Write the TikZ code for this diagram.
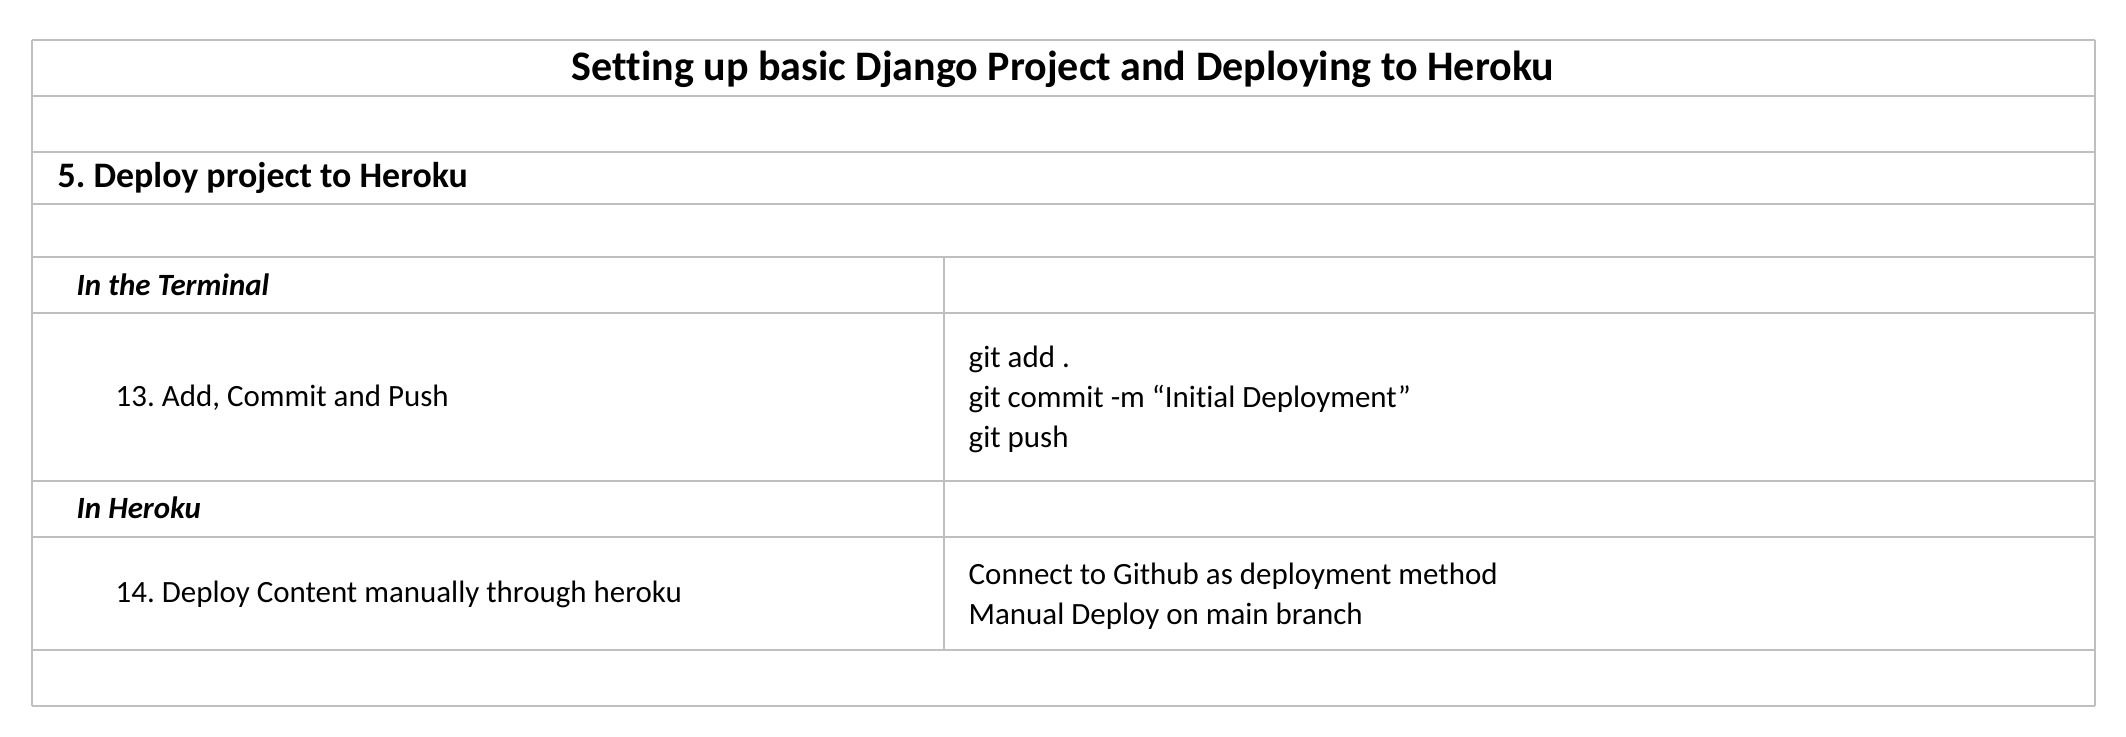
\documentclass[tikz,border=0pt]{standalone}
\usepackage{fontspec}
\setmainfont{Carlito}[Ligatures = NoCommon]
\frenchspacing
\definecolor{rulegray}{RGB}{191,191,191}
\tikzstyle{rule} = [draw = rulegray, line width = 0.7pt]
\tikzstyle{cell} = [anchor = base west, inner sep = 0pt]
\tikzstyle{headcell} = [cell, font = \fontsize{10.2}{12}\selectfont\bfseries]
\tikzstyle{subcell} = [cell, font = \fontsize{8.8}{10}\selectfont\bfseries\itshape]
\tikzstyle{bodycell} = [cell, font = \fontsize{8.8}{10}\selectfont]

\begin{document}
\begin{tikzpicture}[x = 0.01cm, y = -0.01cm]
        \useasboundingbox (0, 0) rectangle (2126, 737);
        % Rules
        \foreach \y in {40, 96, 152, 204, 257, 313, 481, 537, 650, 706}
        {
          \draw[rule] (32, \y) -- (2095, \y);
        }
        \draw[rule] (32, 40)   -- (32, 706);
        \draw[rule] (2095, 40) -- (2095, 706);
        \draw[rule] (944, 257) -- (944, 650);

        % Headings
        \node (title) at (1063, 81) [anchor = base, inner sep = 0pt,
          font = \fontsize{11.95}{14}\selectfont\bfseries]
          {Setting up basic Django Project and Deploying to Heroku};
        \node (step5) at (57, 188) [headcell] {5. Deploy project to Heroku};

        % Terminal
        \node (terminal)  at (76, 296)   [subcell]  {In the Terminal};
        \node (step13)    at (115, 407)  [bodycell] {13. Add, Commit and Push};
        \node (gitadd)    at (968, 368)  [bodycell] {git add .};
        \node (gitcommit) at (968, 408)  [bodycell] {git commit -m “Initial Deployment”};
        \node (gitpush)   at (968, 448)  [bodycell] {git push};

        % Heroku
        \node (heroku)    at (76, 519)   [subcell]  {In Heroku};
        \node (step14)    at (115, 603)  [bodycell] {14. Deploy Content manually through heroku};
        \node (connect)   at (968, 585)  [bodycell] {Connect to Github as deployment method};
        \node (manual)    at (968, 625)  [bodycell] {Manual Deploy on main branch};
      \end{tikzpicture}
\end{document}
